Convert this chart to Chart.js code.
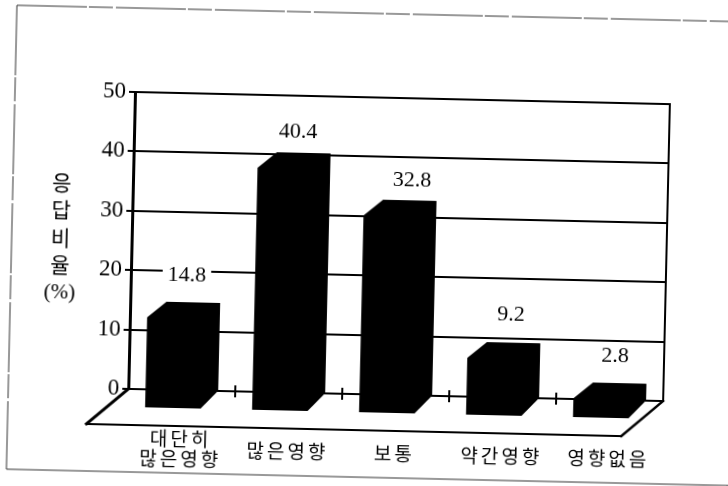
<!DOCTYPE html>
<html lang="ko">
<head>
<meta charset="utf-8">
<title>응답비율</title>
<script src="https://cdn.jsdelivr.net/npm/chart.js@4"></script>
<style>
  html, body { margin: 0; background: #fff; overflow: hidden; width: 728px; height: 486px; }
  /* scan sits slightly crooked on the page */
  #chart { position: absolute; left: 0; top: 0; transform-origin: 135px 92px; transform: rotate(1.3deg); }
</style>
</head>
<body>
<canvas id="chart" width="760" height="486"></canvas>
<script>
// data
const categories = [['대단히', '많은영향'], '많은영향', '보통', '약간영향', '영향없음'];
const responseRates = [14.8, 40.4, 32.8, 9.2, 2.8];
const yTicks = [0, 10, 20, 30, 40, 50];
const yAxisTitle = ['응', '답', '비', '율', '(%)'];

// where each value label floats relative to its bar
const labelLift = [27, 21, 20, 28, 27];
const labelShift = [-7, -6, 2, -3, -5];

const SERIF = '"Liberation Serif", serif';
const HANGUL = '"Noto Sans CJK KR", sans-serif';

// fake 3D: floor depth and bar depth
const FLOOR_DX = 41, FLOOR_DY = 36;
const BAR_DX = 19, BAR_DY = 16;

const line = (ctx, pts, width) => {
    ctx.beginPath();
    pts.forEach((p, i) => i ? ctx.lineTo(p[0], p[1]) : ctx.moveTo(p[0], p[1]));
    ctx.lineWidth = width;
    ctx.stroke();
};

const box3d = {
    id: 'box3d',
    afterLayout(chart) {
        // wider letter spacing for the category labels only
        const x = chart.scales.x;
        if (x.spaced) return;
        x.spaced = true;
        const drawLabels = x.drawLabels;
        x.drawLabels = function (area) {
            chart.ctx.letterSpacing = '3px';
            drawLabels.call(this, area);
            chart.ctx.letterSpacing = '0px';
        };
    },
    afterDatasetsUpdate(chart) {
        // back face of each bar stands half a depth behind the band centre
        chart.getDatasetMeta(0).data.forEach(bar => { bar.x += BAR_DX / 2; });
    },
    beforeDatasetsDraw(chart) {
        const { ctx, chartArea: a, scales: { x, y } } = chart;
        const y0 = y.getPixelForValue(0);
        ctx.save();
        ctx.strokeStyle = '#000';
        ctx.lineCap = 'square';
        // right wall
        line(ctx, [[a.right, a.top], [a.right, y0]], 2);
        // floor
        line(ctx, [[a.left, y0], [a.left - FLOOR_DX, y0 + FLOOR_DY]], 3);
        line(ctx, [[a.left - FLOOR_DX, y0 + FLOOR_DY], [a.right - FLOOR_DX, y0 + FLOOR_DY]], 2);
        line(ctx, [[a.right - FLOOR_DX, y0 + FLOOR_DY], [a.right, y0]], 2.5);
        // marks between the categories on the zero line
        const band = x.getPixelForTick(1) - x.getPixelForTick(0);
        for (let i = 1; i < categories.length; i++) {
            const px = x.getPixelForTick(i) - band / 2;
            line(ctx, [[px, y0 - 5], [px, y0 + 5]], 2);
        }
        ctx.restore();
    },
    afterDatasetsDraw(chart) {
        const { ctx, scales: { y } } = chart;
        const y0 = y.getPixelForValue(0);
        ctx.save();
        // front and side of the bars
        ctx.fillStyle = '#000';
        chart.getDatasetMeta(0).data.forEach(bar => {
            const l = bar.x - bar.width / 2, r = bar.x + bar.width / 2;
            ctx.beginPath();
            ctx.moveTo(l, bar.y);
            ctx.lineTo(r, bar.y);
            ctx.lineTo(r, y0);
            ctx.lineTo(r - BAR_DX + 2, y0 + BAR_DY + 2);
            ctx.lineTo(l - BAR_DX, y0 + BAR_DY + 2);
            ctx.lineTo(l - BAR_DX, bar.y + BAR_DY);
            ctx.closePath();
            ctx.fill();
        });
        // value labels, the white box breaks the grid line behind 14.8
        ctx.font = '22px ' + SERIF;
        ctx.textAlign = 'center';
        ctx.textBaseline = 'middle';
        chart.getDatasetMeta(0).data.forEach((bar, i) => {
            const text = responseRates[i].toFixed(1);
            const tx = bar.x + labelShift[i], ty = bar.y - labelLift[i];
            const w = ctx.measureText(text).width + 10;
            ctx.fillStyle = '#fff';
            ctx.fillRect(tx - w / 2, ty - 10, w, 20);
            ctx.fillStyle = '#000';
            ctx.fillText(text, tx, ty);
        });
        ctx.restore();
    },
    afterDraw(chart) {
        const { ctx } = chart;
        ctx.save();
        // vertical axis title, stacked letter by letter
        ctx.fillStyle = '#000';
        ctx.textAlign = 'center';
        ctx.textBaseline = 'middle';
        yAxisTitle.forEach((t, i) => {
            ctx.font = i === 4 ? '21px ' + SERIF : '21px ' + HANGUL;
            ctx.fillText(t, 64, 184 + i * 27.5);
        });
        // page frame of the scan
        ctx.strokeStyle = '#333';
        ctx.setLineDash([70, 2, 24, 3]);
        line(ctx, [[15, 8], [735, 8]], 1);
        line(ctx, [[15, 8], [15, 472]], 1);
        ctx.setLineDash([]);
        line(ctx, [[15, 472], [737, 472]], 1);
        line(ctx, [[736, 472], [736, 486]], 1);
        ctx.restore();
    }
};

new Chart(document.getElementById('chart'), {
    type: 'bar',
    data: {
        labels: categories,
        datasets: [{
            data: responseRates,
            backgroundColor: '#000',
            borderWidth: 0,
            barPercentage: 0.5,
            categoryPercentage: 1
        }]
    },
    options: {
        responsive: false,
        animation: false,
        layout: { padding: { top: 92, right: 90, left: 0, bottom: 0 } },
        plugins: { legend: { display: false }, tooltip: { enabled: false } },
        scales: {
            x: {
                afterFit: s => { s.height = 97; },
                grid: { display: false },
                border: { display: false },
                ticks: {
                    autoSkip: false,
                    maxRotation: 0,
                    crossAlign: 'center',
                    padding: 41,
                    color: '#000',
                    font: { family: HANGUL, size: 19, lineHeight: 1.05 }
                }
            },
            y: {
                min: yTicks[0],
                max: yTicks[yTicks.length - 1],
                afterFit: s => { s.width = 135; },
                afterBuildTicks: s => { s.ticks = yTicks.map(value => ({ value })); },
                grid: {
                    color: '#000',
                    lineWidth: 2,
                    tickLength: 6
                },
                border: { color: '#000', width: 3 },
                ticks: {
                    padding: 3,
                    color: '#000',
                    font: { family: SERIF, size: 23 }
                }
            }
        }
    },
    plugins: [box3d]
});
</script>
</body>
</html>
